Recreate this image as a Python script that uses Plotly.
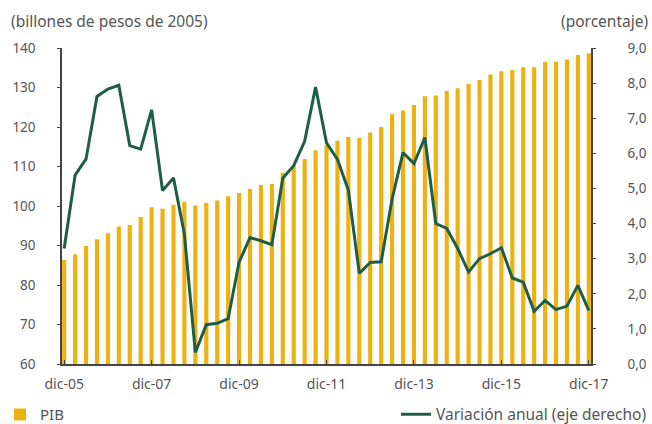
import plotly.graph_objects as go

quarters = []
months = ["mar", "jun", "sep", "dic"]
quarters.append("dic-05")
for yr in range(6, 18):
    for m in months:
        quarters.append(f"{m}-{yr:02d}")

pib = [86.3, 87.8, 89.9, 91.6, 93.1, 94.8, 95.2, 97.2, 99.7, 99.3,
       100.3, 101.0, 100.1, 100.8, 101.4, 102.5, 103.3, 104.3, 105.3, 105.6,
       108.4, 110.2, 111.9, 114.1, 115.4, 116.5, 117.5, 117.2, 118.6, 120.0,
       123.2, 124.2, 125.6, 127.8, 128.0, 129.1, 129.8, 130.9, 131.9, 133.3,
       134.1, 134.4, 135.1, 135.1, 136.5, 136.5, 137.1, 138.2, 138.7]

variacion = [3.29, 5.38, 5.84, 7.62, 7.83, 7.94, 6.22, 6.12, 7.24, 4.94,
             5.30, 3.70, 0.33, 1.12, 1.16, 1.29, 2.90, 3.60, 3.51, 3.40,
             5.29, 5.65, 6.34, 7.89, 6.30, 5.83, 4.95, 2.58, 2.89, 2.91,
             4.70, 6.02, 5.71, 6.45, 4.00, 3.86, 3.29, 2.62, 3.00, 3.14,
             3.31, 2.45, 2.33, 1.50, 1.81, 1.55, 1.65, 2.24, 1.52]

tick_labels = ["dic-05", "dic-07", "dic-09", "dic-11", "dic-13", "dic-15", "dic-17"]
right_ticks = [0, 1, 2, 3, 4, 5, 6, 7, 8, 9]
right_labels = [f"{v},0" for v in right_ticks]

FONT = "Noto Sans"
TXT = "#555555"

fig = go.Figure()
fig.add_trace(go.Bar(
    x=quarters, y=pib, name="PIB", marker_color="#EDB111",
    marker_line_width=0, width=0.38, legend="legend",
))
fig.add_trace(go.Scatter(
    x=quarters, y=variacion, name="Variación anual (eje derecho)",
    mode="lines", line=dict(color="#1E5E47", width=3), yaxis="y2",
    legend="legend2",
))

fig.update_layout(
    width=652, height=424,
    showlegend=True,
    margin=dict(l=62, r=61, t=48, b=60, autoexpand=False),
    paper_bgcolor="white", plot_bgcolor="white",
    font=dict(family=FONT, size=13.5, color=TXT),
    xaxis=dict(
        type="category", range=[-0.2, 48.2],
        tickmode="array", tickvals=tick_labels, ticktext=tick_labels,
        showline=True, linecolor="#444444", linewidth=1.5,
        ticks="inside", ticklen=4, tickcolor="#444444",
        showgrid=False, tickfont=dict(size=14, color=TXT),
        ticklabelstandoff=6,
    ),
    yaxis=dict(
        range=[60, 140], dtick=10, showgrid=False, zeroline=False,
        showline=True, linecolor="#444444", linewidth=1.5,
        ticks="outside", ticklen=3, tickcolor="#444444",
        tickfont=dict(size=13.5, color=TXT), ticklabelstandoff=19,
    ),
    yaxis2=dict(
        range=[0, 9], overlaying="y", side="right", showgrid=False,
        zeroline=False, tickmode="array", tickvals=right_ticks,
        ticktext=right_labels,
        showline=True, linecolor="#444444", linewidth=1.5,
        ticks="outside", ticklen=3, tickcolor="#444444",
        tickfont=dict(size=13.5, color=TXT), ticklabelstandoff=29,
    ),
    legend=dict(xref="container", yref="container", x=0.0, y=0.022,
                xanchor="left", yanchor="middle",
                orientation="h", font=dict(size=15, color=TXT),
                bgcolor="rgba(0,0,0,0)", visible=True),
    legend2=dict(xref="container", yref="container", x=1.0, y=0.022,
                 xanchor="right", yanchor="middle",
                 orientation="h", font=dict(size=15.5, color=TXT),
                 bgcolor="rgba(0,0,0,0)", visible=True),
    annotations=[
        dict(text="(billones de pesos de 2005)", xref="paper", yref="paper",
             x=-62/529 + 9/529, y=1 + (48 - 21) / 316, xanchor="left",
             yanchor="middle", showarrow=False,
             font=dict(size=15.5, color=TXT)),
        dict(text="(porcentaje)", xref="paper", yref="paper",
             x=1 + 59/529, y=1 + (48 - 21) / 316, xanchor="right",
             yanchor="middle", showarrow=False,
             font=dict(size=15.5, color=TXT)),
    ],
)

fig.write_html("out.html", config={"displayModeBar": False},
               post_script="document.body.style.margin='0';document.body.style.padding='0';")
